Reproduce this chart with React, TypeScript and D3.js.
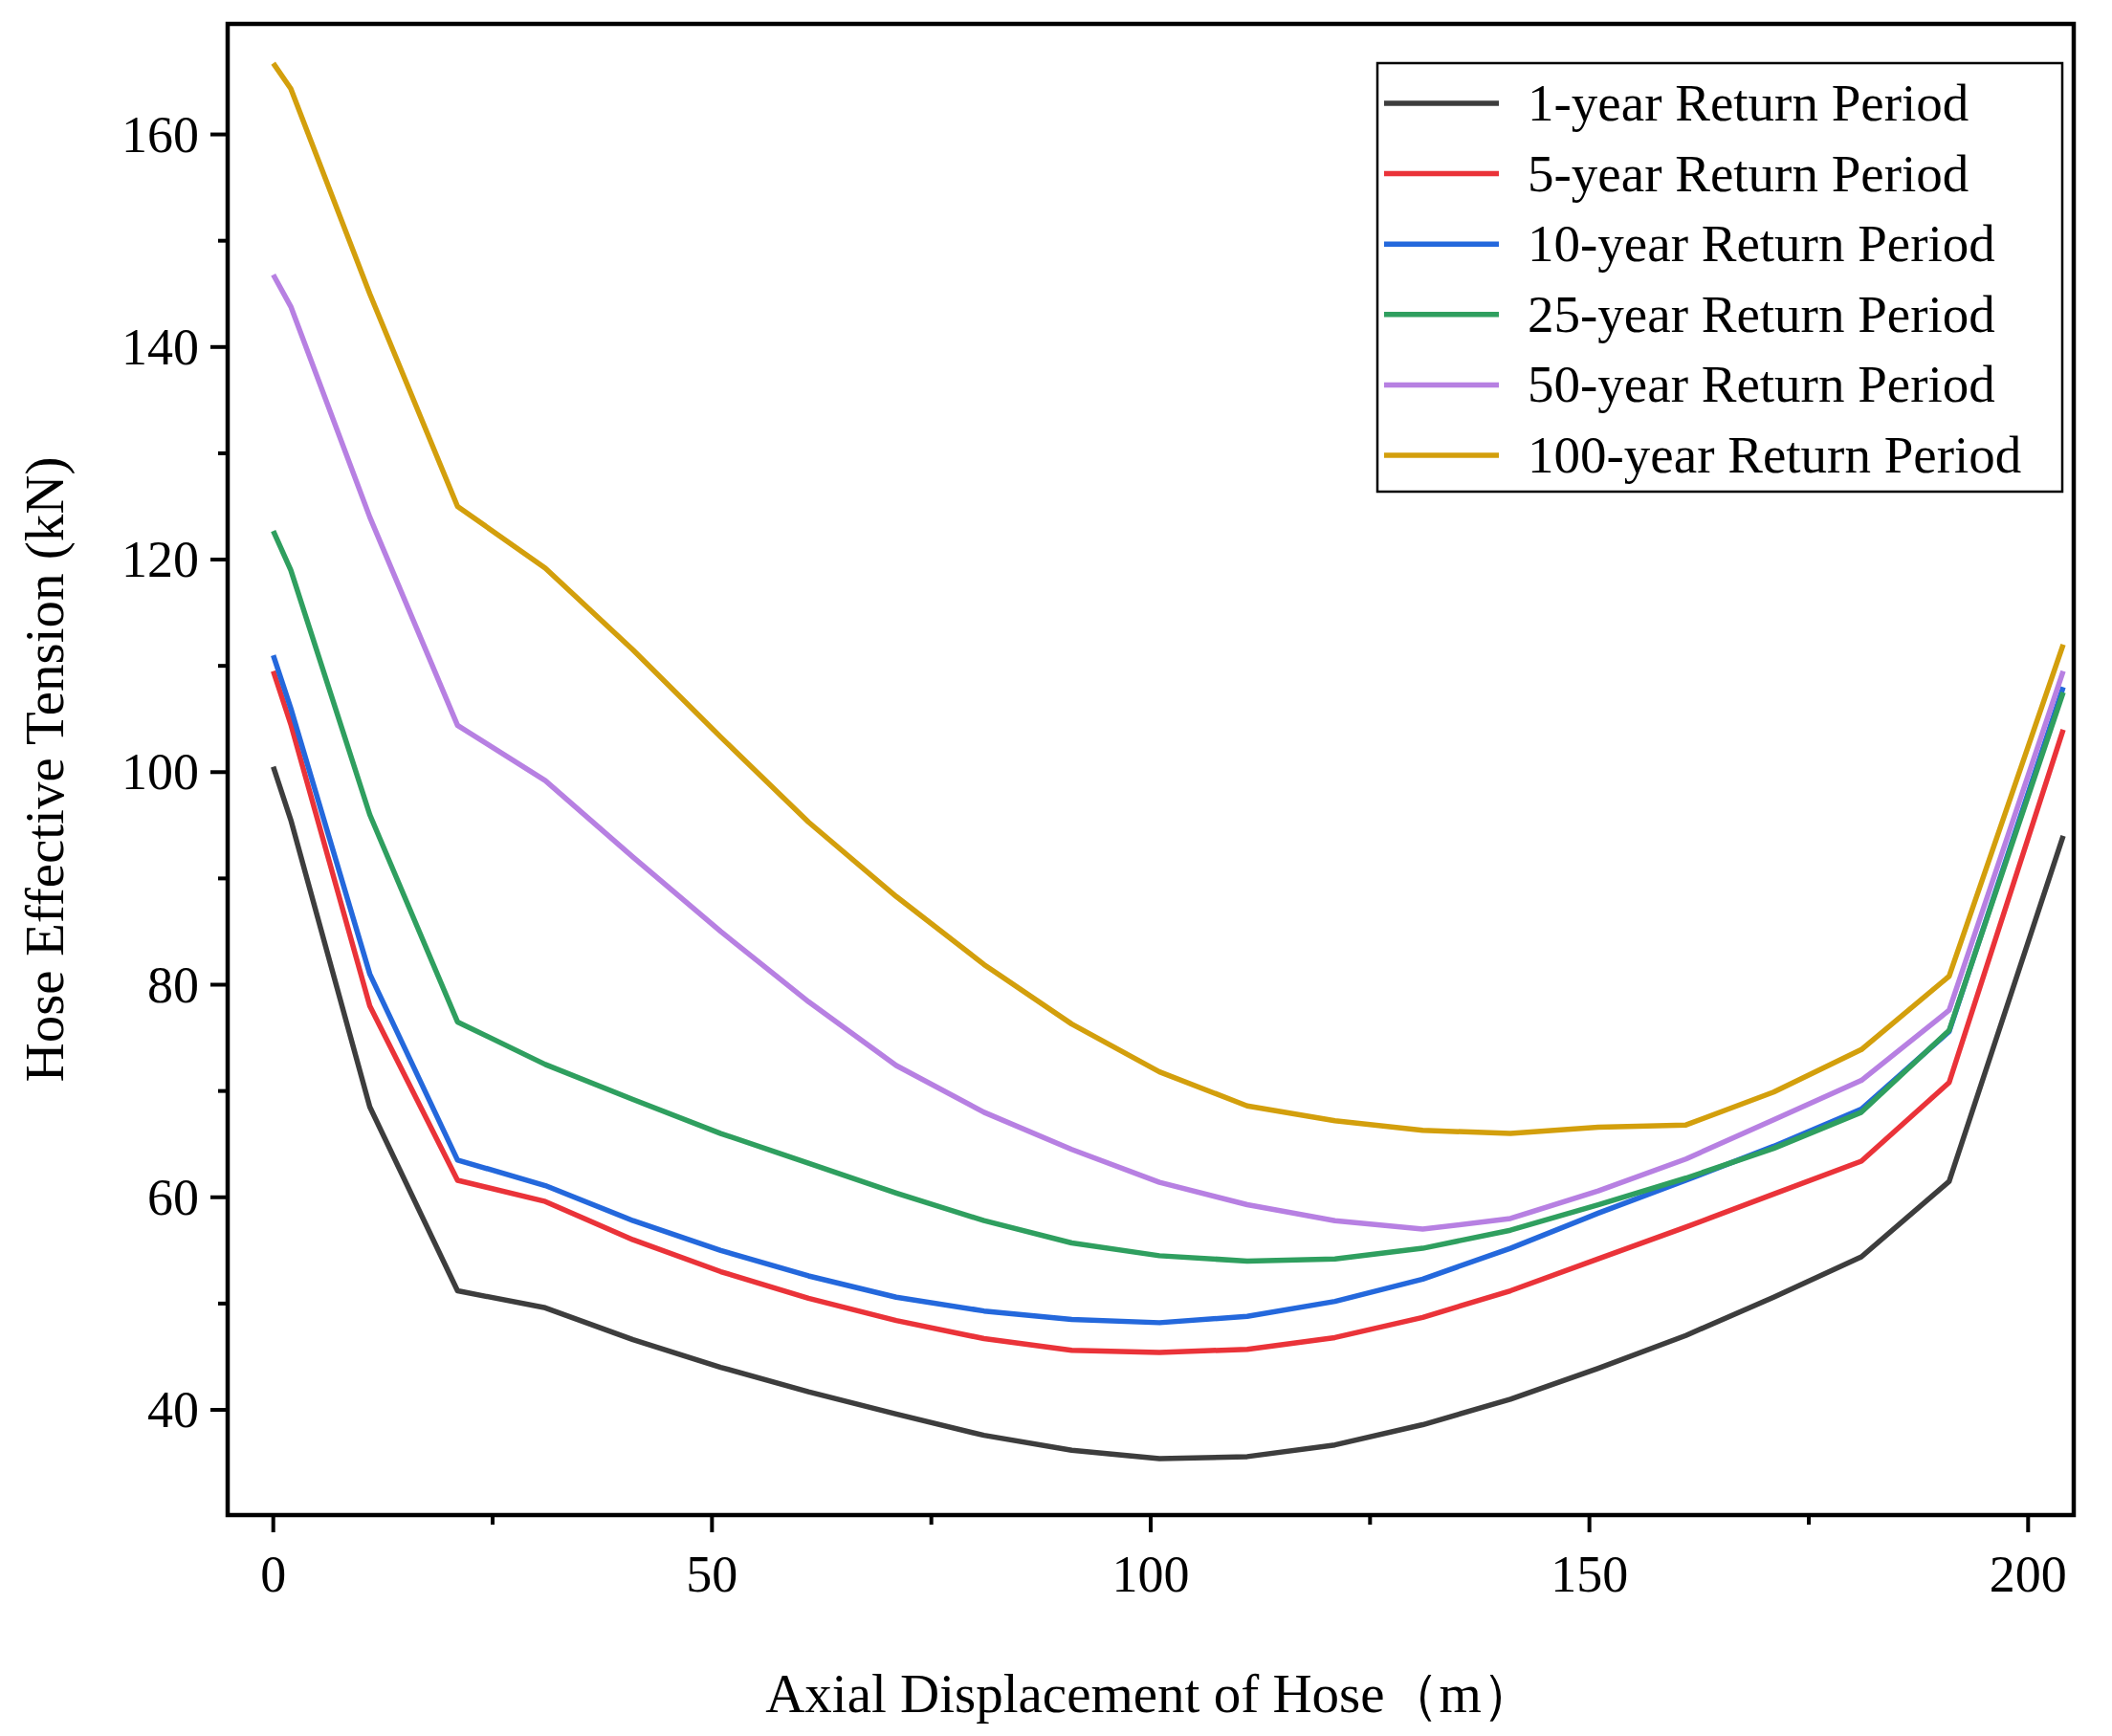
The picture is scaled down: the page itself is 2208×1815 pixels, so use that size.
import * as d3 from "d3";

const xs = [0, 2, 11, 21, 31, 41, 51, 61, 71, 81, 91, 101, 111, 121, 131, 141, 151, 161, 171, 181, 191, 204];
const y1 = [100.5, 95.5, 68.5, 51.2, 49.6, 46.6, 44, 41.7, 39.6, 37.6, 36.2, 35.4, 35.6, 36.7, 38.6, 41, 43.9, 47, 50.6, 54.4, 61.5, 94];
const y5 = [109.5, 104.5, 78, 61.6, 59.6, 56, 53, 50.5, 48.4, 46.7, 45.6, 45.4, 45.7, 46.8, 48.7, 51.2, 54.2, 57.2, 60.3, 63.4, 70.8, 104];
const y10 = [111, 106, 81, 63.5, 61.1, 57.8, 55, 52.6, 50.6, 49.3, 48.5, 48.2, 48.8, 50.2, 52.3, 55.2, 58.5, 61.6, 64.8, 68.3, 75.6, 108];
const y25 = [122.7, 119, 96, 76.5, 72.5, 69.2, 66, 63.2, 60.4, 57.8, 55.7, 54.5, 54, 54.2, 55.2, 56.9, 59.3, 61.8, 64.6, 68, 75.7, 107.5];
const y50 = [146.8, 143.8, 124, 104.4, 99.2, 92, 85, 78.4, 72.4, 68, 64.5, 61.4, 59.3, 57.8, 57, 58, 60.6, 63.6, 67.3, 71, 77.6, 109.5];
const y100 = [166.7, 164.3, 145, 125, 119.2, 111.5, 103.3, 95.3, 88.3, 81.9, 76.3, 71.8, 68.6, 67.2, 66.3, 66, 66.6, 66.8, 69.9, 73.9, 80.8, 112];

const seriesNames = ["1-year Return Period", "5-year Return Period", "10-year Return Period", "25-year Return Period", "50-year Return Period", "100-year Return Period"];
const seriesValues = [y1, y5, y10, y25, y50, y100];
const colors = ["#3d3d3d", "#ea3339", "#2468dc", "#2f9f5f", "#b780e2", "#d39f0c"];

const xTicks = [0, 50, 100, 150, 200];
const xMinor = [25, 75, 125, 175];
const yTicks = [40, 60, 80, 100, 120, 140, 160];
const yMinor = [50, 70, 90, 110, 130, 150];

export default function App() {
  const W = 2208, H = 1815;
  const L = 238, R = 2168, T = 25, B = 1584;
  const x = d3.scaleLinear([-5.2, 205.2], [L, R]);
  const y = d3.scaleLinear([30.1, 170.4], [B, T]);
  const line = d3.line<[number, number]>().x((d) => x(d[0])).y((d) => y(d[1]));
  const font = "'Liberation Serif', 'Times New Roman', serif";
  return (
    <svg width={W} height={H} style={{ position: "absolute", left: 0, top: 0, background: "#fff" }} fontFamily={font}>
      <g fill="none" strokeWidth={5.5} strokeLinejoin="round">
        {seriesValues.map((vals, i) => (
          <path key={i} d={line(xs.map((v, j) => [v, vals[j]]))!} stroke={colors[i]} />
        ))}
      </g>
      <rect x={L} y={T} width={R - L} height={B - T} fill="none" stroke="#000" strokeWidth={4.5} />
      {xTicks.map((t) => (
        <g key={t}>
          <line x1={x(t)} x2={x(t)} y1={B} y2={B + 18} stroke="#000" strokeWidth={4} />
          <text x={x(t)} y={B + 80} fontSize={54} textAnchor="middle">{t}</text>
        </g>
      ))}
      {xMinor.map((t) => (
        <line key={t} x1={x(t)} x2={x(t)} y1={B} y2={B + 10} stroke="#000" strokeWidth={4} />
      ))}
      {yTicks.map((t) => (
        <g key={t}>
          <line x1={L} x2={L - 18} y1={y(t)} y2={y(t)} stroke="#000" strokeWidth={4} />
          <text x={L - 30} y={y(t) + 18} fontSize={54} textAnchor="end">{t}</text>
        </g>
      ))}
      {yMinor.map((t) => (
        <line key={t} x1={L} x2={L - 10} y1={y(t)} y2={y(t)} stroke="#000" strokeWidth={4} />
      ))}
      <text x={(L + R) / 2} y={1790} fontSize={57} textAnchor="middle">Axial Displacement of Hose（m）</text>
      <text transform={`translate(66,${(T + B) / 2}) rotate(-90)`} fontSize={57} textAnchor="middle">Hose Effective Tension (kN)</text>
      <rect x={1440} y={66} width={716} height={448} fill="#fff" stroke="#000" strokeWidth={2.5} />
      {seriesNames.map((n, i) => (
        <g key={n} transform={`translate(0,${108 + i * 73.6})`}>
          <line x1={1447} x2={1567} y1={0} y2={0} stroke={colors[i]} strokeWidth={5.5} />
          <text x={1597} y={18} fontSize={55}>{n}</text>
        </g>
      ))}
    </svg>
  );
}
